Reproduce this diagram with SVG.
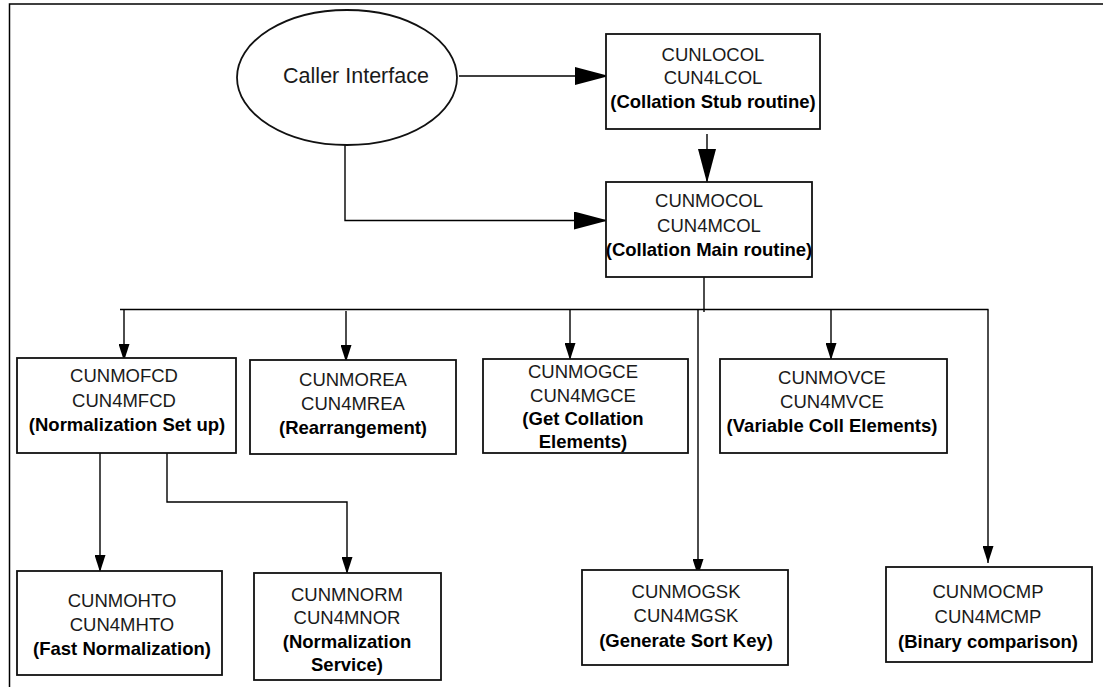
<svg xmlns="http://www.w3.org/2000/svg" width="1103" height="687" viewBox="0 0 1103 687">
  <defs>
    <style>
      .frame { fill: none; stroke: #000; stroke-width: 1.5; }
      .node { fill: #fff; stroke: #111; stroke-width: 1.8; }
      .wire { fill: none; stroke: #000; stroke-width: 1.4; }
      text { font-family: "Liberation Sans", Arial, sans-serif; font-size: 18.5px; fill: #1a1a1a; text-anchor: middle; }
      .b { font-weight: bold; fill: #000; }
      .big { font-size: 21.5px; }
    </style>
    <marker id="headL" markerUnits="userSpaceOnUse" markerWidth="34" markerHeight="18" refX="34" refY="9" orient="auto">
      <path d="M0,0 L34,9 L0,18 z" fill="#000"/>
    </marker>
    <marker id="headS" markerUnits="userSpaceOnUse" markerWidth="17" markerHeight="11" refX="17" refY="5.5" orient="auto">
      <path d="M0,0 L17,5.5 L0,11 z" fill="#000"/>
    </marker>
  </defs>

  <rect width="1103" height="687" fill="#fff"/>
  <!-- page frame: top and left edges -->
  <path class="frame" d="M1103,4 H9.5 V687"/>

  <g id="connectors">
    <path class="wire" d="M459,76 H609" marker-end="url(#headL)"/>
    <path class="wire" d="M707,134 V183" marker-end="url(#headL)"/>
    <path class="wire" d="M345,145 V220.5 H608" marker-end="url(#headL)"/>
    <path class="wire" d="M704,277 V312"/>
    <path class="wire" d="M120,309.5 H988.5"/>
    <path class="wire" d="M124,309.5 V361" marker-end="url(#headS)"/>
    <path class="wire" d="M346,311 V362" marker-end="url(#headS)"/>
    <path class="wire" d="M570,309.5 V360" marker-end="url(#headS)"/>
    <path class="wire" d="M698,309.5 V576" marker-end="url(#headS)"/>
    <path class="wire" d="M831,309.5 V360" marker-end="url(#headS)"/>
    <path class="wire" d="M988,309.5 V563" marker-end="url(#headS)"/>
    <path class="wire" d="M100,453 V572" marker-end="url(#headS)"/>
    <path class="wire" d="M167,453 V502 H347 V574" marker-end="url(#headS)"/>
  </g>

  <g id="caller">
    <ellipse class="node" cx="347" cy="77.5" rx="110" ry="67.5"/>
    <text class="big" x="356" y="83">Caller Interface</text>
  </g>

  <g id="cunlocol">
    <rect class="node" x="606" y="34" width="214" height="95"/>
    <text x="713" y="60.5">CUNLOCOL</text>
    <text x="713" y="84">CUN4LCOL</text>
    <text class="b" x="713" y="107.5">(Collation Stub routine)</text>
  </g>

  <g id="cunmocol">
    <rect class="node" x="606" y="182" width="206" height="95"/>
    <text x="709" y="207">CUNMOCOL</text>
    <text x="709" y="232">CUN4MCOL</text>
    <text class="b" x="709" y="255.5">(Collation Main routine)</text>
  </g>

  <g id="cunmofcd">
    <rect class="node" x="17" y="358" width="219" height="95"/>
    <text x="124" y="382">CUNMOFCD</text>
    <text x="124" y="407">CUN4MFCD</text>
    <text class="b" x="127" y="431">(Normalization Set up)</text>
  </g>

  <g id="cunmorea">
    <rect class="node" x="250" y="360" width="206" height="94"/>
    <text x="353" y="385.5">CUNMOREA</text>
    <text x="353" y="410">CUN4MREA</text>
    <text class="b" x="353" y="434">(Rearrangement)</text>
  </g>

  <g id="cunmogce">
    <rect class="node" x="483" y="359" width="205" height="94"/>
    <text x="583" y="378">CUNMOGCE</text>
    <text x="583" y="402">CUN4MGCE</text>
    <text class="b" x="583" y="425">(Get Collation</text>
    <text class="b" x="583" y="448">Elements)</text>
  </g>

  <g id="cunmovce">
    <rect class="node" x="720" y="359" width="227" height="94"/>
    <text x="832" y="383.5">CUNMOVCE</text>
    <text x="832" y="408">CUN4MVCE</text>
    <text class="b" x="832" y="431.5">(Variable Coll Elements)</text>
  </g>

  <g id="cunmohto">
    <rect class="node" x="17" y="571" width="205" height="104"/>
    <text x="122" y="606.5">CUNMOHTO</text>
    <text x="122" y="630.5">CUN4MHTO</text>
    <text class="b" x="122" y="654.5">(Fast Normalization)</text>
  </g>

  <g id="cunmnorm">
    <rect class="node" x="254" y="573" width="187" height="107"/>
    <text x="347" y="600.5">CUNMNORM</text>
    <text x="347" y="624">CUN4MNOR</text>
    <text class="b" x="347" y="647.5">(Normalization</text>
    <text class="b" x="347" y="671">Service)</text>
  </g>

  <g id="cunmogsk">
    <rect class="node" x="582" y="570" width="206" height="95"/>
    <text x="686" y="597.5">CUNMOGSK</text>
    <text x="686" y="622">CUN4MGSK</text>
    <text class="b" x="686" y="646.5">(Generate Sort Key)</text>
  </g>

  <g id="cunmocmp">
    <rect class="node" x="886" y="567" width="206" height="95"/>
    <text x="988" y="598">CUNMOCMP</text>
    <text x="988" y="623">CUN4MCMP</text>
    <text class="b" x="988" y="647.5">(Binary comparison)</text>
  </g>
</svg>
